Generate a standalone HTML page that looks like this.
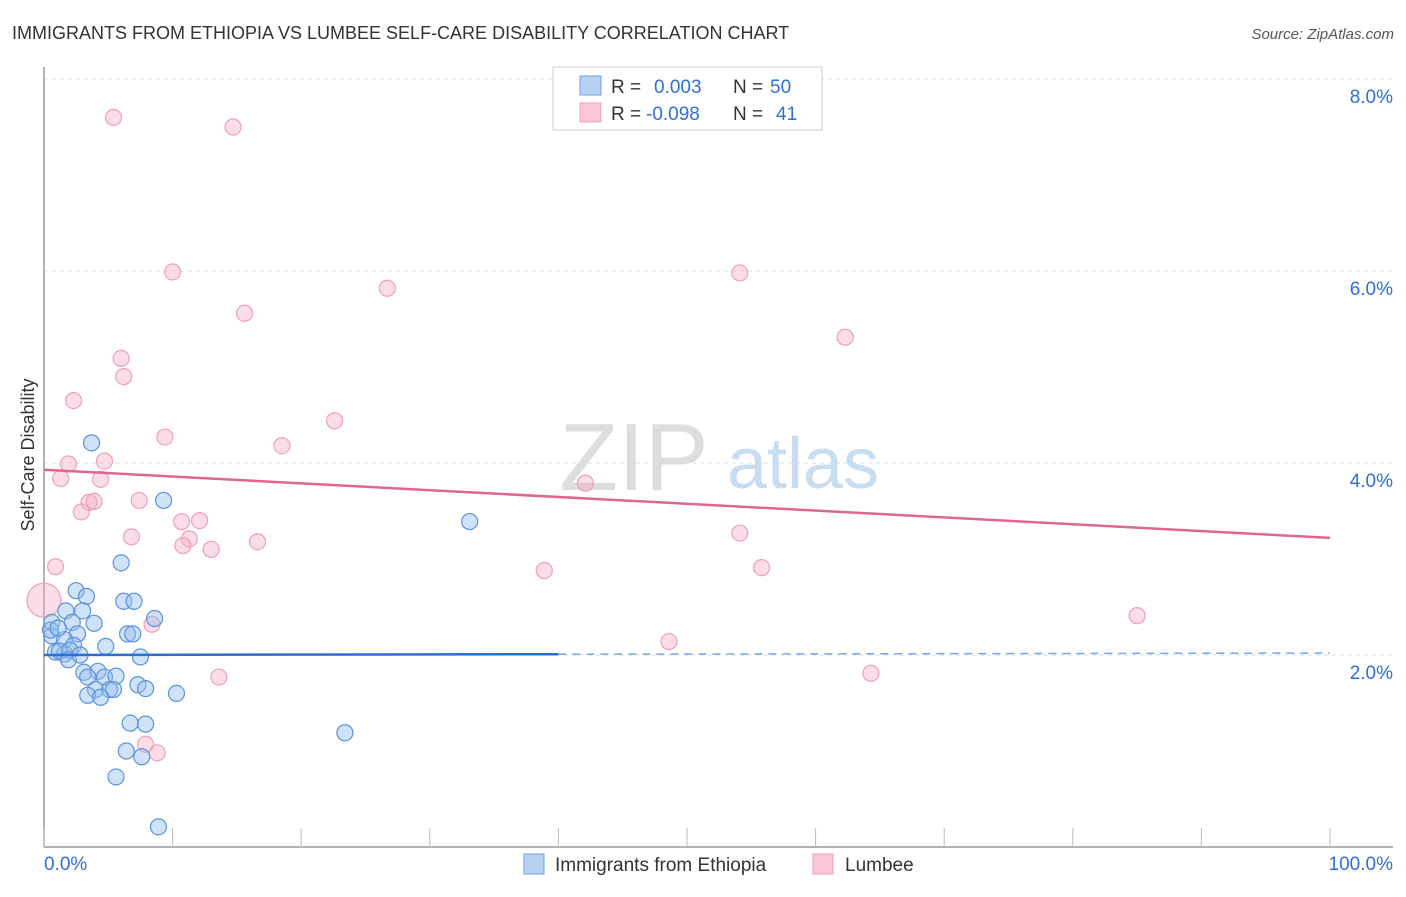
<!DOCTYPE html>
<html><head><meta charset="utf-8"><style>
body{margin:0;background:#fff;font-family:"Liberation Sans",sans-serif}
svg text{font-family:"Liberation Sans",sans-serif}
</style></head><body>
<svg width="1406" height="892" xmlns="http://www.w3.org/2000/svg">
<text x="12" y="39" font-size="18" fill="#333">IMMIGRANTS FROM ETHIOPIA VS LUMBEE SELF-CARE DISABILITY CORRELATION CHART</text>
<text x="1394" y="39" font-size="15" fill="#555" font-style="italic" text-anchor="end">Source: ZipAtlas.com</text>
<g>
<text x="634" y="490" font-size="96" fill="#ddd" font-family="Liberation Serif,serif" text-anchor="middle">ZIP</text>
<text x="803" y="488" font-size="72" fill="#c8dcf2" text-anchor="middle">atlas</text>
</g>
<g id="grid"></g>
<g id="axes"></g>
<text transform="translate(34,455) rotate(-90)" font-size="18" fill="#333" text-anchor="middle">Self-Care Disability</text>
<g id="pts"></g>
<g id="trend"></g>
<g>
<rect x="553" y="67" width="269" height="63" fill="#fff" stroke="#ccc"/>
<rect x="580" y="76" width="21" height="19" fill="#b7d1f3" stroke="#6fa0e0"/>
<rect x="580" y="103" width="21" height="19" fill="#f8c6d5" stroke="#eda0b8"/>
<text x="611" y="93" font-size="19" fill="#333">R = <tspan fill="#2f6fd6" x="654">0.003</tspan><tspan x="733" fill="#333">N = </tspan><tspan fill="#2f6fd6" x="770">50</tspan></text>
<text x="611" y="120" font-size="19" fill="#333">R = <tspan fill="#2f6fd6" x="646">-0.098</tspan><tspan x="733" fill="#333">N = </tspan><tspan fill="#2f6fd6" x="776">41</tspan></text>
</g>
<g>
<rect x="524" y="854" width="20" height="20" fill="#b7d1f3" stroke="#6fa0e0"/>
<text x="555" y="871" font-size="19" fill="#333">Immigrants from Ethiopia</text>
<rect x="813" y="854" width="20" height="20" fill="#f8c6d5" stroke="#eda0b8"/>
<text x="845" y="871" font-size="19" fill="#333">Lumbee</text>
</g>
</svg>
<script>
const yTicks=[2,4,6,8];
const yTickLabels=["2.0%","4.0%","6.0%","8.0%"];
const xTickLabels=["0.0%","100.0%"];
const blueX=[3.7,9.3,33.1,6.0,2.5,3.3,6.2,7.0,1.7,3.0,8.6,0.6,2.2,3.9,6.5,6.9,0.6,2.6,1.6,2.3,4.8,0.9,1.6,1.2,2.0,7.5,3.1,4.2,4.7,5.6,3.4,4.0,5.1,5.4,7.3,7.9,10.3,3.4,4.4,6.7,7.9,23.4,6.4,7.6,5.6,8.9,0.5,1.1,1.9,2.8];
const blueY=[4.21,3.61,3.39,2.96,2.67,2.61,2.56,2.56,2.46,2.46,2.38,2.34,2.34,2.33,2.22,2.22,2.20,2.22,2.16,2.10,2.09,2.03,2.01,2.04,2.05,1.98,1.82,1.83,1.77,1.78,1.77,1.64,1.64,1.64,1.69,1.65,1.60,1.58,1.56,1.29,1.28,1.19,1.00,0.94,0.73,0.21,2.26,2.28,1.95,2.00];
const pinkX=[5.4,14.7,10.0,54.1,26.7,15.6,62.3,6.0,6.2,2.3,22.6,9.4,18.5,1.9,4.7,1.3,4.4,42.1,3.5,3.9,7.4,2.9,10.7,12.1,6.8,11.3,54.1,10.8,13.0,16.6,0.9,38.9,55.8,85.0,8.4,48.6,13.6,64.3,7.9,8.8,0];
const pinkY=[7.60,7.50,5.99,5.98,5.82,5.56,5.31,5.09,4.90,4.65,4.44,4.27,4.18,3.99,4.02,3.84,3.83,3.79,3.59,3.60,3.61,3.49,3.39,3.40,3.23,3.21,3.27,3.14,3.10,3.18,2.92,2.88,2.91,2.41,2.32,2.14,1.77,1.81,1.07,0.98,2.57];
const blueTrend=[2.00,2.02];
const pinkTrend=[3.93,3.22];
const X=v=>44+v*12.86, Y=v=>847-v*96;
const NS="http://www.w3.org/2000/svg";
function mk(tag,attrs,parent){const e=document.createElementNS(NS,tag);for(const k in attrs)e.setAttribute(k,attrs[k]);parent.appendChild(e);return e;}
const grid=document.getElementById('grid'),axes=document.getElementById('axes'),pts=document.getElementById('pts'),tr=document.getElementById('trend');
yTicks.forEach((t,i)=>{
 const l=mk('line',{x1:44,x2:1393,y1:Y(t),y2:Y(t),stroke:'#ddd','stroke-dasharray':'4,4'},grid);
 
 
 const tx=mk('text',{x:1393,y:Y(t)+24,'font-size':19,fill:'#2f6fd6','text-anchor':'end'},axes);
 tx.textContent=yTickLabels[i];
 
 
});
const ax=mk('line',{x1:44,x2:44,y1:67,y2:847,stroke:'#999','stroke-width':1.5},axes);


const bx=mk('line',{x1:44,x2:1393,y1:847,y2:847,stroke:'#999','stroke-width':1.5},axes);


for(let i=0;i<=10;i++){
 const t=mk('line',{x1:X(i*10),x2:X(i*10),y1:828,y2:847,stroke:'#bbb'},axes);
 
 
}
[[0,'start',44],[100,'end',1393]].forEach((d,i)=>{
 const tx=mk('text',{x:d[2],y:870,'font-size':19,fill:'#2f6fd6','text-anchor':d[1]},axes);
 tx.textContent=xTickLabels[i];
 
 
});
pinkX.forEach((x,i)=>{
 const c=mk('circle',{cx:X(x),cy:Y(pinkY[i]),r:x===0?17:8,fill:'rgba(244,170,195,0.4)',stroke:'#eda0b8','stroke-width':1.2},pts);
 
 
});
blueX.forEach((x,i)=>{
 const c=mk('circle',{cx:X(x),cy:Y(blueY[i]),r:8,fill:'rgba(150,190,240,0.45)',stroke:'#5a92dc','stroke-width':1.2},pts);
 
 
});
const xs=40;
const bt=v=>blueTrend[0]+(blueTrend[1]-blueTrend[0])*v/100;
const b1=mk('line',{x1:X(0),y1:Y(bt(0)),x2:X(xs),y2:Y(bt(xs)),stroke:'#2a6fd8','stroke-width':2.5},tr);


const b2=mk('line',{x1:X(xs),y1:Y(bt(xs)),x2:X(100),y2:Y(bt(100)),stroke:'#7aa5e0','stroke-width':1.5,'stroke-dasharray':'8,6'},tr);


const p1=mk('line',{x1:X(0),y1:Y(pinkTrend[0]),x2:X(100),y2:Y(pinkTrend[1]),stroke:'#e06690','stroke-width':2.5},tr);


</script>
</body></html>
